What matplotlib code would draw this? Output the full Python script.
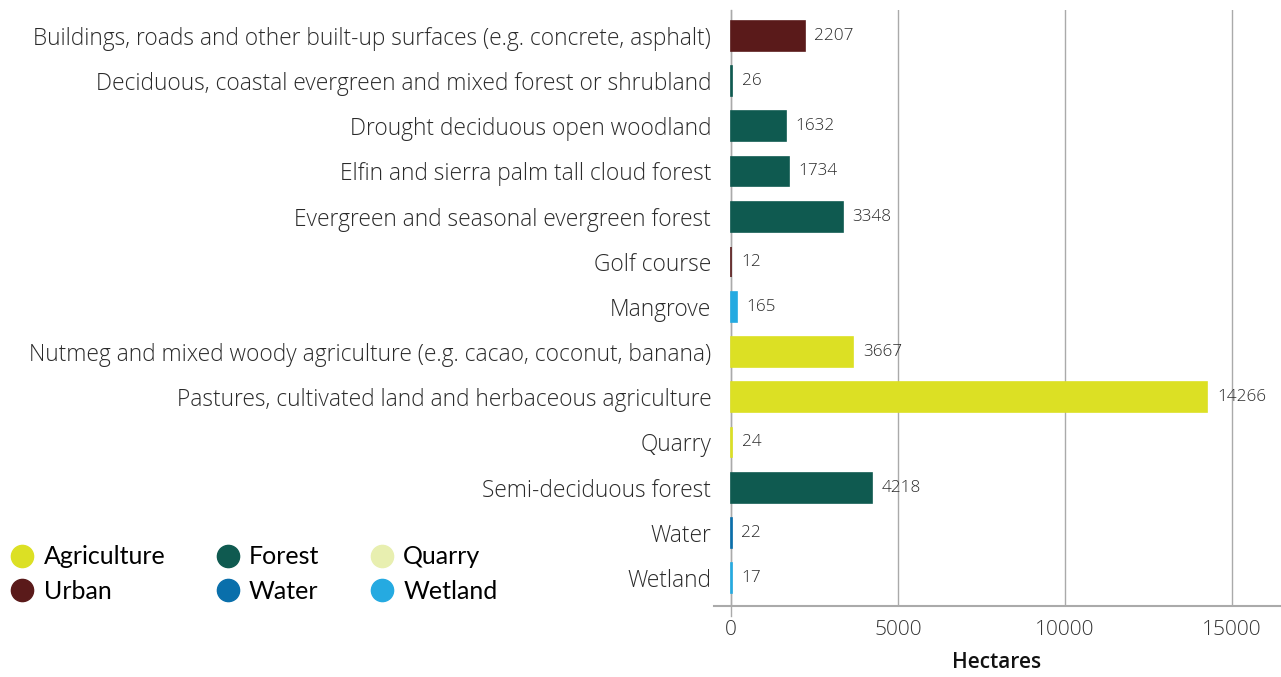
import matplotlib
matplotlib.use("Agg")
import matplotlib.pyplot as plt
from matplotlib.lines import Line2D

categories = [
    "Buildings, roads and other built-up surfaces (e.g. concrete, asphalt)",
    "Deciduous, coastal evergreen and mixed forest or shrubland",
    "Drought deciduous open woodland",
    "Elfin and sierra palm tall cloud forest",
    "Evergreen and seasonal evergreen forest",
    "Golf course",
    "Mangrove",
    "Nutmeg and mixed woody agriculture (e.g. cacao, coconut, banana)",
    "Pastures, cultivated land and herbaceous agriculture",
    "Quarry",
    "Semi-deciduous forest",
    "Water",
    "Wetland",
]
hectares = [2207, 26, 1632, 1734, 3348, 12, 165, 3667, 14266, 24, 4218, 22, 17]
groups = ["Urban", "Forest", "Forest", "Forest", "Forest", "Urban", "Wetland",
          "Agriculture", "Agriculture", "Agriculture", "Forest", "Water", "Wetland"]

legend_order = ["Agriculture", "Urban", "Forest", "Water", "Quarry", "Wetland"]
group_colors = {
    "Agriculture": "#dce024",
    "Forest": "#0f5a50",
    "Quarry": "#e8efb0",
    "Urban": "#5a1a1a",
    "Water": "#0a6fab",
    "Wetland": "#25aae1",
}
xticks = [0, 5000, 10000, 15000]

plt.rcParams['font.family'] = ['Open Sans', 'DejaVu Sans']

fig = plt.figure(figsize=(12.81, 6.77), dpi=100)
ax = fig.add_axes([714/1281, 1-606/677, 566/1281, 596/677])

ypos = list(range(len(categories)))
cols = [group_colors[g] for g in groups]
ax.barh(ypos, hectares, height=0.66, color=cols, edgecolor=cols,
        linewidth=1.2, zorder=3)

for y, v in zip(ypos, hectares):
    ax.annotate(str(v), xy=(v, y), xytext=(7, 0), textcoords="offset points",
                va="center", ha="left", fontsize=12.3, color="#2a2a2a",
                fontweight="light")

ax.set_xlim(-509, 16437)
ax.set_ylim(12.62, -0.575)
ax.set_yticks(ypos)
ax.set_yticklabels(categories, fontsize=16.4, color="#2a2a2a", fontweight="light")
ax.tick_params(axis="y", length=0, pad=2)
ax.set_xticks(xticks)
ax.set_xticklabels([str(t) for t in xticks], fontsize=15, color="#333333",
                   fontweight="light")
ax.tick_params(axis="x", length=0, pad=10)
ax.set_xlabel("Hectares", fontsize=15, fontweight="semibold", color="#111111",
              labelpad=9)

for s in ["top", "right", "left"]:
    ax.spines[s].set_visible(False)
ax.spines["bottom"].set_color("#aaaaaa")
ax.spines["bottom"].set_linewidth(1.5)
ax.grid(axis="x", color="#aaaaaa", linewidth=1, zorder=0)
ax.axvline(0, ymin=-0.016, ymax=1, color="#aaaaaa", linewidth=1, clip_on=False, zorder=2)

handles = [Line2D([0], [0], marker="o", linestyle="", markersize=16,
                  markerfacecolor=group_colors[g], markeredgecolor=group_colors[g])
           for g in legend_order]
leg = fig.legend(handles, legend_order, ncol=3, loc="upper left",
                 bbox_to_anchor=(-0.007, 1-528/677), frameon=False,
                 prop={"family": ["Lato", "DejaVu Sans"], "size": 18},
                 handletextpad=0.3, columnspacing=1.95, labelspacing=0.45,
                 handlelength=1.1, borderpad=0.2)

fig.savefig("out.png", dpi=100)
